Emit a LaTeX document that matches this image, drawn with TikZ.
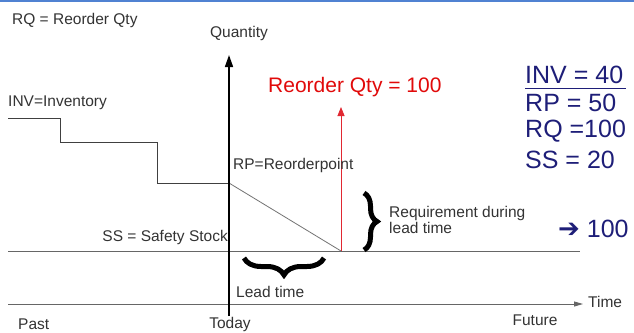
\documentclass[tikz,border=0pt]{standalone}
\usepackage{fontspec}
\setmainfont{Liberation Sans}
\newfontfamily\symfont{DejaVu Sans}
\usetikzlibrary{arrows.meta,decorations.pathreplacing}
\definecolor{navy}{RGB}{30,30,120}
\definecolor{redtxt}{RGB}{225,10,10}
\definecolor{redline}{RGB}{225,40,50}
\definecolor{topblue}{RGB}{80,130,210}
\tikzset{
  lbl/.style={inner sep=0pt, font=\fontsize{15.5}{18}\selectfont, text=black!80},
  big/.style={inner sep=0pt, font=\fontsize{25}{28}\selectfont, text=navy, anchor=west},
  axis/.style={line width=1.6pt, black},
  thin/.style={line width=0.8pt, black!60},
  bracestyle/.style={decorate, line width=5pt, black}
}
\begin{document}
\begin{tikzpicture}[x=1pt,y=-1pt]
\useasboundingbox (0,0) rectangle (634,332);
\fill[white] (0,0) rectangle (634,332);
% top blue line
\coordinate (tl) at (0,1);
\coordinate (tr) at (634,1);
\draw[topblue, line width=2pt] (tl) -- (tr);

% coordinates
\coordinate (vbot) at (229,316);
\coordinate (vtop) at (229,55);
\coordinate (tstart) at (8,304);
\coordinate (tend) at (583,304);
\coordinate (ssA) at (8,251);
\coordinate (ssB) at (580,251);
\coordinate (i0) at (8,118);
\coordinate (i1) at (60,118);
\coordinate (i2) at (60,142);
\coordinate (i3) at (157,142);
\coordinate (i4) at (157,183);
\coordinate (rp) at (229,183);
\coordinate (hit) at (341,251);
\coordinate (rtop) at (341,107);

% lines
\draw[thin] (ssA) -- (ssB);
\draw[thin, -{Triangle[length=9pt,width=5pt]}] (tstart) -- (tend);
\draw[line width=0.9pt, black!75] (i0) -- (i1) -- (i2) -- (i3) -- (i4) -- (rp);
\draw[line width=0.8pt, black!55] (rp) -- (hit);
\draw[line width=0.8pt, redline, -{Triangle[length=9pt,width=7pt]}] (hit) -- (rtop);
\draw[axis, -{Triangle[length=12pt,width=8pt]}] (vbot) -- (vtop);

% braces
\coordinate (brT) at (364,193);
\coordinate (brB) at (364,250);
\draw[bracestyle, decoration={brace, amplitude=13pt}] (brT) -- (brB);
\coordinate (blL) at (244,258);
\coordinate (blR) at (324,258);
\draw[bracestyle, decoration={brace, amplitude=17pt, aspect=0.5}] (blR) -- (blL);

% texts
\node[lbl, anchor=west] (rqdef) at (12,20) {RQ = Reorder Qty};
\node[lbl] (qty) at (239,33) {Quantity};
\node[lbl, anchor=west] (invdef) at (8,103) {INV=Inventory};
\node[inner sep=0pt, anchor=west, text=redtxt, font=\fontsize{21}{24}\selectfont] (rqlabel) at (268,87) {Reorder Qty = 100};
\node[lbl, anchor=west] (rpdef) at (233,165) {RP=Reorderpoint};
\node[lbl, anchor=west, align=left, font=\fontsize{15.5}{16}\selectfont] (req) at (389,220) {Requirement during\\lead time};
\node[lbl, anchor=east] (ssdef) at (228,237) {SS = Safety Stock};
\node[lbl, anchor=west] (lead) at (236,292) {Lead time};
\node[lbl, anchor=west] (past) at (18,324) {Past};
\node[lbl] (today) at (230,324) {Today};
\node[lbl] (future) at (535,320) {Future};
\node[lbl, anchor=west] (time) at (588,302) {Time};

\node[big] (inv) at (525,75) {INV = 40};
\coordinate (ulA) at (525,88);
\coordinate (ulB) at (626,88);
\draw[navy, line width=1pt] (ulA) -- (ulB);
\node[big] (rpv) at (525,103) {RP = 50};
\node[big] (rqv) at (525,131) {RQ =100};
\node[big] (ssv) at (525,160) {SS = 20};
\node[big] (hundred) at (558,229) {{\symfont\bfseries\fontsize{26}{28}\selectfont ➔} 100};
\end{tikzpicture}
\end{document}
